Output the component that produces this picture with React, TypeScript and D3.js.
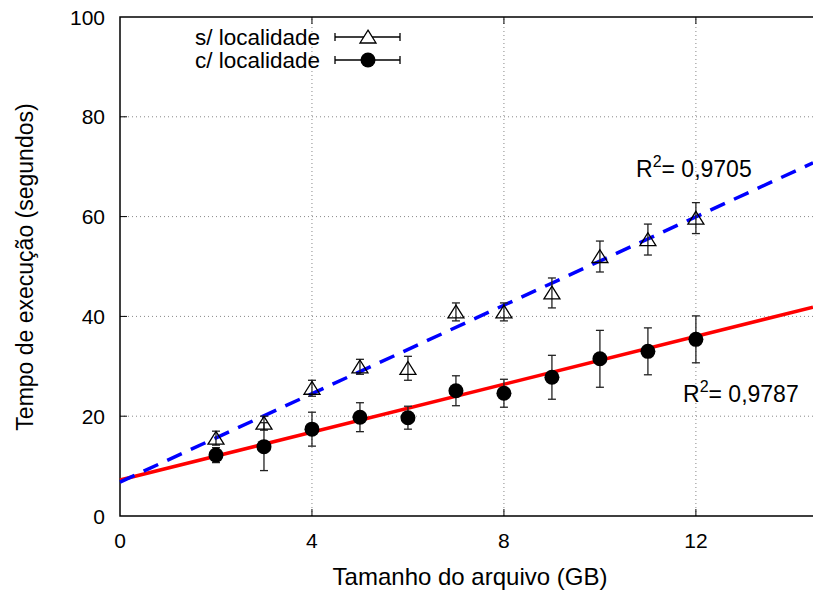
import React from 'react';
import * as d3 from 'd3';

// tamanho do arquivo (GB)
const sizes = [2, 3, 4, 5, 6, 7, 8, 9, 10, 11, 12];
// s/ localidade
const semLocal = [15.6, 18.6, 25.6, 29.9, 29.6, 40.9, 40.9, 44.7, 52.0, 55.4, 59.7];
const semLocalErr = [1.4, 1.4, 1.6, 1.5, 2.4, 1.8, 1.8, 3.0, 3.1, 3.1, 3.1];
// c/ localidade
const comLocal = [12.2, 13.9, 17.4, 19.8, 19.7, 25.1, 24.6, 27.8, 31.5, 33.0, 35.4];
const comLocalErr = [1.5, 4.8, 3.4, 2.9, 2.3, 3.0, 2.8, 4.4, 5.7, 4.7, 4.7];
// regression lines [intercept, slope]
const semFit = [6.8, 4.43];
const comFit = [7.2, 2.4];
const semR2 = '0,9705';
const comR2 = '0,9787';

const xTicks = [0, 4, 8, 12];
const yTicks = [0, 20, 40, 60, 80, 100];

const W = 813;
const H = 592;
const FONT = '"Liberation Sans", Arial, Helvetica, sans-serif';

const x = d3.scaleLinear().domain([0, 14.44]).range([120, 813]);
const y = d3.scaleLinear().domain([0, 100]).range([516, 17]);

const triPath = (cx: number, cy: number) => {
  const s = 8;
  return `M${cx},${cy - s * 0.85}L${cx + s},${cy + s * 0.75}L${cx - s},${cy + s * 0.75}Z`;
};

const ErrBars = ({ vals, errs }: { vals: number[]; errs: number[] }) => (
  <g stroke="#222" strokeWidth={1.3}>
    {sizes.map((s, i) => {
      const cx = x(s);
      const y1 = y(vals[i] + errs[i]);
      const y2 = y(vals[i] - errs[i]);
      return (
        <g key={i}>
          <line x1={cx} x2={cx} y1={y1} y2={y2} />
          <line x1={cx - 4} x2={cx + 4} y1={y1} y2={y1} />
          <line x1={cx - 4} x2={cx + 4} y1={y2} y2={y2} />
        </g>
      );
    })}
  </g>
);

const App = () => {
  const fitLine = (f: number[]) =>
    d3
      .line<number>()
      .x((d) => x(d))
      .y((d) => y(f[0] + f[1] * d))(x.domain());

  return (
    <svg
      width={W}
      height={H}
      style={{ position: 'absolute', left: 0, top: 0, background: '#fff' }}
      fontFamily={FONT}
    >
      {/* grid */}
      <g stroke="#888" strokeWidth={1} strokeDasharray="1,3">
        {xTicks.slice(1).map((t) => (
          <line key={t} x1={x(t)} x2={x(t)} y1={y(0)} y2={y(100)} />
        ))}
        {yTicks.slice(1, -1).map((t) => (
          <line key={t} x1={x(0)} x2={W} y1={y(t)} y2={y(t)} />
        ))}
      </g>

      {/* frame */}
      <path
        d={`M${W},${y(100)}H${x(0)}V${y(0)}H${W}`}
        fill="none"
        stroke="#000"
        strokeWidth={1.5}
      />
      <g stroke="#000" strokeWidth={1}>
        {xTicks.slice(1).map((t) => (
          <g key={t}>
            <line x1={x(t)} x2={x(t)} y1={y(0)} y2={y(0) - 7} />
            <line x1={x(t)} x2={x(t)} y1={y(100)} y2={y(100) + 7} />
          </g>
        ))}
        {yTicks.slice(1, -1).map((t) => (
          <line key={t} x1={x(0)} x2={x(0) + 7} y1={y(t)} y2={y(t)} />
        ))}
      </g>

      {/* tick labels */}
      <g fontSize={21} fill="#000">
        {xTicks.map((t) => (
          <text key={t} x={x(t)} y={548} textAnchor="middle">
            {t}
          </text>
        ))}
        {yTicks.map((t) => (
          <text key={t} x={105} y={y(t) + 7.5} textAnchor="end">
            {t}
          </text>
        ))}
      </g>

      {/* axis titles */}
      <text x={470} y={585} textAnchor="middle" fontSize={24}>
        Tamanho do arquivo (GB)
      </text>
      <text
        transform={`translate(33,${267}) rotate(-90)`}
        textAnchor="middle"
        fontSize={23}
      >
        Tempo de execução (segundos)
      </text>

      {/* regression lines */}
      <path d={fitLine(comFit) || ''} fill="none" stroke="#ff0000" strokeWidth={3.5} />
      <path
        d={fitLine(semFit) || ''}
        fill="none"
        stroke="#0000ff"
        strokeWidth={3.5}
        strokeDasharray="16,10"
      />

      {/* data */}
      <ErrBars vals={semLocal} errs={semLocalErr} />
      <ErrBars vals={comLocal} errs={comLocalErr} />
      {sizes.map((s, i) => (
        <path
          key={'t' + i}
          d={triPath(x(s), y(semLocal[i]))}
          fill="none"
          stroke="#000"
          strokeWidth={1.3}
        />
      ))}
      {sizes.map((s, i) => (
        <circle key={'c' + i} cx={x(s)} cy={y(comLocal[i])} r={7.5} fill="#000" />
      ))}

      {/* R² labels */}
      <text x={636} y={177} fontSize={23}>
        R<tspan dy={-10} fontSize={16}>2</tspan>
        <tspan dy={10}>= {semR2}</tspan>
      </text>
      <text x={683} y={402} fontSize={23}>
        R<tspan dy={-10} fontSize={16}>2</tspan>
        <tspan dy={10}>= {comR2}</tspan>
      </text>

      {/* legend */}
      <g fontSize={22.5}>
        {[
          { label: 's/ localidade', yy: 37, tri: true },
          { label: 'c/ localidade', yy: 60, tri: false },
        ].map((d) => (
          <g key={d.label}>
            <text x={320} y={d.yy + 8} textAnchor="end">
              {d.label}
            </text>
            <g stroke="#000" strokeWidth={1.3}>
              <line x1={335} x2={400} y1={d.yy} y2={d.yy} />
              <line x1={335} x2={335} y1={d.yy - 4} y2={d.yy + 4} />
              <line x1={400} x2={400} y1={d.yy - 4} y2={d.yy + 4} />
            </g>
            {d.tri ? (
              <path d={triPath(368, d.yy)} fill="#fff" stroke="#000" strokeWidth={1.3} />
            ) : (
              <circle cx={368} cy={d.yy} r={7.5} fill="#000" />
            )}
          </g>
        ))}
      </g>
    </svg>
  );
};

export default App;
